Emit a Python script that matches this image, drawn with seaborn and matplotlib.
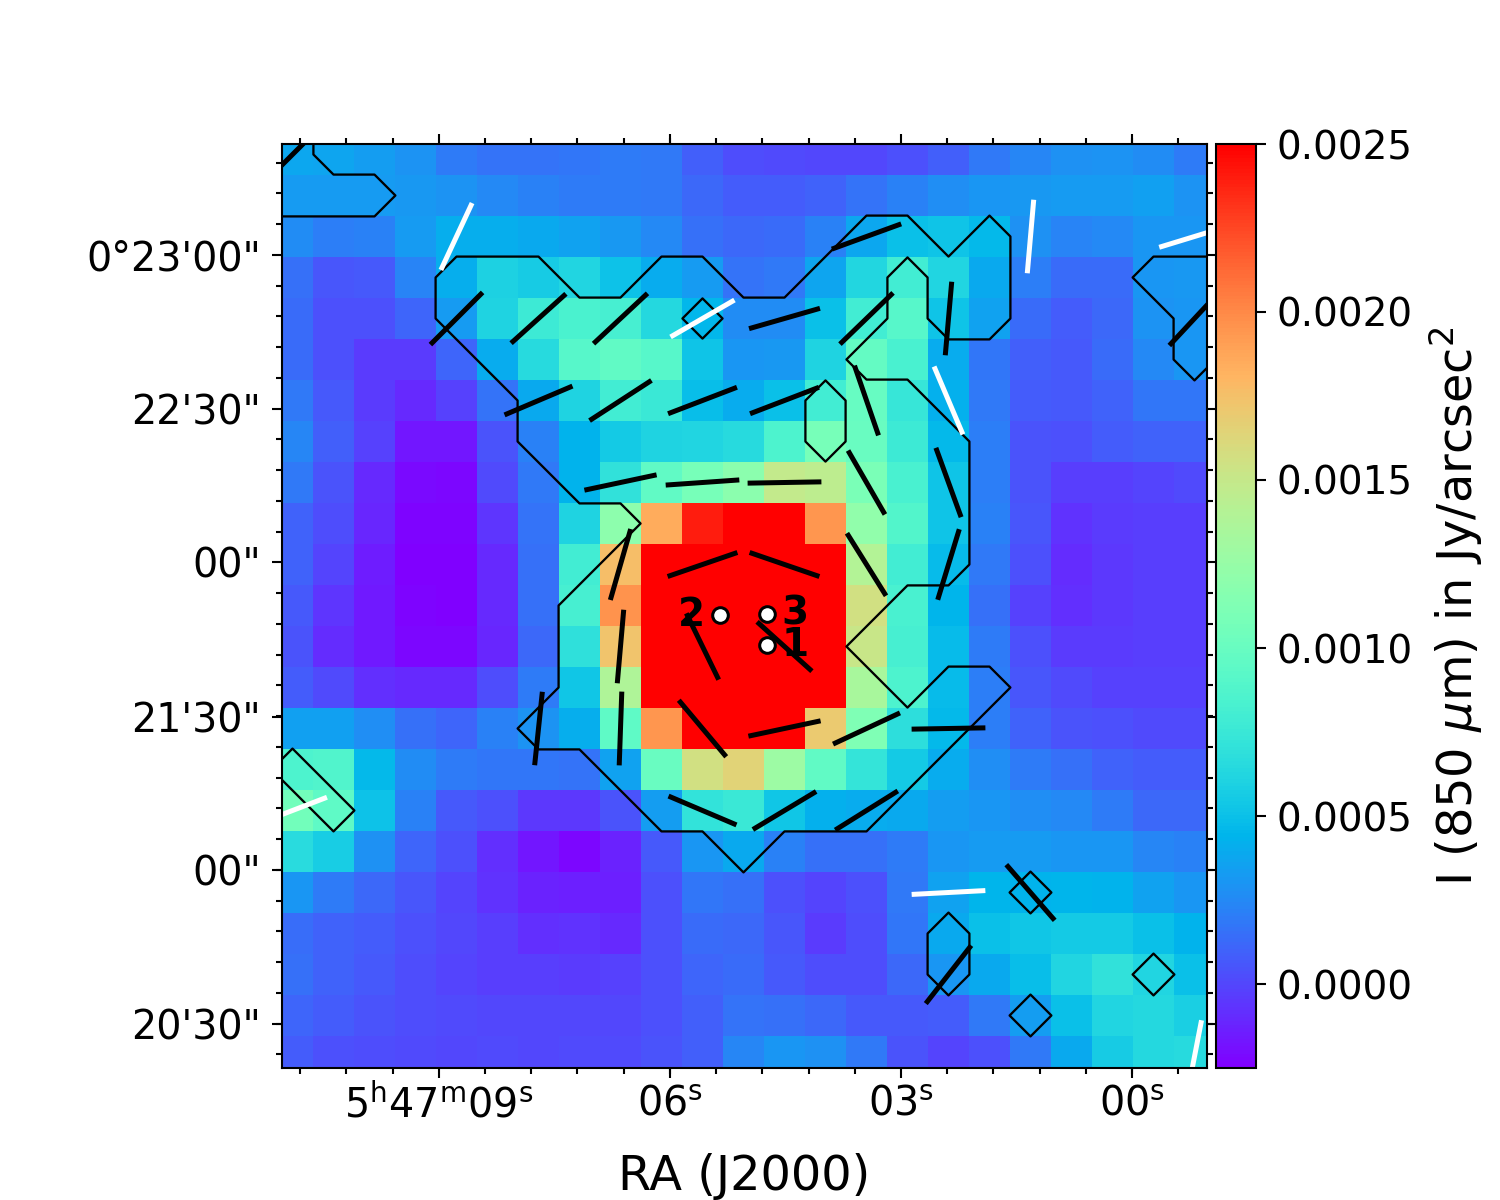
import numpy as np
import seaborn as sns
import matplotlib
matplotlib.use("Agg")
import matplotlib.pyplot as plt

# stokes I in units of 1e-4 Jy/arcsec2, top row first
intensity = [
    [3.8, 3.7, 3.4, 2.9, 2.0, 1.6, 1.6, 1.7, 2.0, 1.8, 0.9, 0.2, 0.1, 0.0, 0.0, 0.4, 0.9, 1.9, 2.4, 2.8, 2.9, 2.6, 2.0],
    [3.3, 3.3, 3.2, 3.1, 2.9, 2.5, 2.2, 2.0, 2.0, 1.8, 1.2, 0.8, 0.8, 1.0, 1.6, 2.2, 2.7, 3.0, 3.1, 3.2, 3.3, 3.5, 2.9],
    [2.6, 2.1, 2.2, 3.2, 4.1, 4.1, 3.9, 3.6, 3.1, 2.5, 1.5, 1.2, 1.3, 2.2, 3.8, 5.0, 5.2, 4.6, 2.8, 2.3, 2.5, 3.0, 3.0],
    [1.5, 0.6, 0.7, 2.3, 4.1, 5.9, 5.6, 6.1, 5.1, 4.0, 3.3, 1.6, 1.9, 3.7, 6.3, 8.0, 6.2, 3.9, 2.1, 1.3, 1.3, 3.0, 3.1],
    [1.3, 0.3, 0.4, 1.1, 3.2, 6.0, 7.6, 8.4, 8.2, 6.4, 4.5, 2.6, 2.6, 5.0, 8.0, 9.0, 5.2, 3.6, 1.3, 0.8, 1.2, 2.9, 3.0],
    [1.3, 0.3, -0.4, -0.4, 1.1, 4.0, 6.5, 9.0, 9.6, 9.0, 5.2, 3.0, 3.1, 6.0, 9.8, 8.3, 4.0, 1.7, 0.9, 0.7, 1.3, 2.5, 3.0],
    [1.8, 0.7, -0.4, -1.0, -0.2, 1.6, 3.9, 6.0, 8.0, 7.5, 4.9, 4.0, 5.0, 8.0, 9.9, 7.3, 4.2, 1.8, 0.8, 0.7, 1.0, 1.7, 1.7],
    [2.4, 0.9, -0.2, -1.7, -1.7, 0.5, 2.2, 4.3, 5.5, 6.0, 6.2, 6.5, 8.5, 10.8, 10.0, 7.6, 4.6, 2.1, 0.5, 0.3, 0.8, 1.0, 1.0],
    [1.9, 0.5, -1.0, -2.1, -2.2, 0.1, 1.8, 4.3, 7.0, 9.6, 10.8, 11.8, 14.8, 14.5, 11.0, 8.3, 5.2, 2.1, 0.5, -0.3, -0.3, -0.1, 0.1],
    [1.0, 0.2, -1.2, -2.3, -2.3, -0.6, 1.6, 6.0, 12.0, 18.5, 24.0, 25.0, 25.0, 19.5, 12.2, 8.8, 5.2, 2.2, 0.6, -0.7, -0.4, -0.3, -0.3],
    [1.0, -0.1, -1.5, -2.4, -2.4, -1.0, 1.5, 8.0, 17.6, 25.0, 25.0, 25.0, 25.0, 25.0, 14.0, 8.0, 4.7, 1.9, 0.3, -0.9, -0.5, -0.3, -0.3],
    [0.7, -0.6, -1.6, -2.3, -2.5, -1.1, 1.5, 8.2, 19.6, 25.0, 25.0, 25.0, 25.0, 25.0, 15.6, 8.3, 4.4, 1.5, -0.2, -0.8, -0.5, -0.3, -0.3],
    [0.5, -0.9, -1.6, -2.2, -2.2, -1.2, 1.2, 6.9, 17.3, 25.0, 25.0, 25.0, 25.0, 25.0, 15.2, 8.2, 4.8, 2.0, 0.3, -0.4, -0.4, -0.3, -0.3],
    [0.8, 0.1, -0.8, -1.1, -1.1, 0.2, 2.0, 5.3, 13.8, 25.0, 25.0, 25.0, 25.0, 25.0, 13.5, 8.5, 4.8, 2.1, 0.6, 0.1, -0.2, -0.2, -0.2],
    [3.5, 3.5, 2.7, 1.5, 1.1, 2.2, 2.9, 4.1, 9.5, 19.5, 25.0, 25.0, 25.0, 17.0, 11.2, 6.8, 4.6, 2.1, 1.0, 0.5, 0.3, 0.1, 0.1],
    [8.5, 8.7, 4.6, 2.6, 2.0, 1.7, 1.7, 1.6, 3.6, 10.0, 15.6, 16.5, 12.8, 9.6, 7.2, 5.5, 4.0, 2.7, 2.0, 1.5, 1.0, 0.8, 0.8],
    [10.5, 9.5, 5.1, 2.2, 0.7, 0.3, -0.5, -0.5, 0.5, 3.4, 7.1, 7.5, 5.3, 4.2, 4.0, 3.9, 3.4, 3.0, 2.7, 2.5, 2.0, 1.2, 1.2],
    [6.6, 5.7, 2.8, 1.1, 0.3, -0.8, -1.7, -2.2, -1.3, 0.7, 3.0, 3.9, 2.2, 1.5, 1.5, 2.0, 3.0, 3.2, 3.2, 3.0, 3.0, 2.4, 2.2],
    [3.0, 2.0, 1.2, 0.6, -0.1, -0.7, -1.3, -1.4, -1.4, 0.4, 1.7, 1.5, 0.4, -0.1, 0.4, 1.9, 3.6, 4.4, 4.3, 4.4, 4.3, 3.6, 3.0],
    [1.4, 1.0, 0.8, 0.4, 0.0, -0.3, -0.8, -0.7, -1.0, 0.4, 1.3, 1.2, 0.6, -0.4, 0.2, 1.7, 3.9, 5.0, 5.3, 5.5, 5.5, 5.0, 4.3],
    [1.5, 1.0, 0.7, 0.2, -0.1, -0.3, -0.3, -0.4, -0.2, 0.4, 1.1, 1.3, 0.7, 0.2, 0.2, 1.2, 3.0, 3.9, 4.9, 6.1, 7.0, 6.2, 5.0],
    [1.1, 0.8, 0.5, 0.2, 0.1, 0.0, 0.0, 0.0, 0.0, 0.4, 0.9, 1.6, 1.5, 1.2, 0.7, 0.7, 0.8, 1.9, 3.4, 5.0, 6.2, 6.4, 5.8],
    [0.8, 0.3, 0.2, 0.1, 0.0, 0.1, 0.0, 0.1, 0.1, 0.5, 0.9, 2.4, 3.0, 2.8, 1.8, 0.5, -0.1, 0.4, 1.8, 3.9, 5.6, 6.4, 6.5],
]

# contour mask, one extra cell on each side because the map is cropped
mask_rows = [
    "1100000000000000000000000",
    "1100000000000000000000000",
    "1111000000000000000000000",
    "0000000000000001101000000",
    "0000011100110011011000111",
    "0000011111101111011000011",
    "0000001111111110000000010",
    "0000000111111101100000000",
    "0000000111111101110000000",
    "0000000011111111110000000",
    "0000000000111111110000000",
    "0000000001111111110000000",
    "0000000011111111000000000",
    "0000000011111110000000000",
    "0000000011111111011000000",
    "0000000111111111110000000",
    "0100000001111111100000000",
    "0010000000111111000000000",
    "0000000000001000000000000",
    "0000000000000000000100000",
    "0000000000000000010000000",
    "0000000000000000010000100",
    "0000000000000000000100000",
    "0000000000000000000000000",
    "0000000000000000000000000",
]

# polarization vectors: cell column, cell row, angle in degrees from +x
black_col = [0, 14, 4, 6, 8, 12, 14, 16, 22, 6, 8, 10, 12, 14, 8, 10, 12, 14, 16,
             8, 10, 12, 14, 16, 8, 10, 12, 6, 8, 10, 12, 14, 16, 10, 12, 14, 18, 16]
black_row = [0, 2, 4, 4, 4, 4, 4, 4, 4, 6, 6, 6, 6, 6, 8, 8, 8, 8, 8,
             10, 10, 10, 10, 10, 12, 12, 12, 14, 14, 14, 14, 14, 14, 16, 16, 16, 18, 20]
black_ang = [45, 20, 45, 42, 43, 16, 44, 85, 47, 23, 33, 21, 21, 109, 12, 4, 1, 120, 110,
             74, 19, -19, -58, 73, 85, -64, -42, 84, 88, -50, 12, 25, 1, -23, 31, 32, -49, 52]
white_col = [4, 18, 22, 10, 16, 0, 16, 22]
white_row = [2, 2, 2, 4, 6, 16, 18, 22]
white_ang = [65, 85, 17, 30, 113, 21, 3, 79]
vec_len = 1.8

source_names = ["1", "2", "3"]
source_col = [12.07, 10.93, 12.07]
source_row = [12.46, 11.73, 11.71]
source_text_col = [12.76, 10.24, 12.76]
source_text_row = [12.46, 11.72, 11.70]

ra_labels = ["5$^{\\mathrm{h}}$47$^{\\mathrm{m}}$09$^{\\mathrm{s}}$", "06$^{\\mathrm{s}}$", "03$^{\\mathrm{s}}$", "00$^{\\mathrm{s}}$"]
ra_ticks = np.array([4.07, 9.71, 15.34, 20.98])
dec_labels = ["0\u00b023'00\"", "22'30\"", "00\"", "21'30\"", "00\"", "20'30\""]
dec_ticks = np.array([2.95, 6.70, 10.45, 14.21, 17.96, 21.71])
cbar_ticks = [0.0, 0.0005, 0.001, 0.0015, 0.002, 0.0025]

data = np.array(intensity) * 1e-4
mask = np.array([[int(c) for c in row] for row in mask_rows])

fig = plt.figure(figsize=(10, 8), dpi=150)
ax = fig.add_axes([282 / 1500, 1 - 1068 / 1200, 925 / 1500, 924 / 1200])
cax = fig.add_axes([1216 / 1500, 1 - 1068 / 1200, 40 / 1500, 924 / 1200])

sns.heatmap(data, cmap="rainbow", vmin=-0.00025, vmax=0.0025, ax=ax, cbar_ax=cax,
            xticklabels=False, yticklabels=False,
            cbar_kws={"ticks": cbar_ticks, "format": "%.4f"})

# contour through the cell centres
xc = np.arange(-1, 24) + 0.5
yc = np.arange(-1, 24) + 0.5
ax.contour(xc, yc, mask, levels=[0.49], colors="k", linewidths=1.1)


def draw_vectors(cols, rows, angs, color):
    for c, r, a in zip(cols, rows, angs):
        dx = np.cos(np.radians(a)) * vec_len / 2
        dy = np.sin(np.radians(a)) * vec_len / 2
        ax.plot([c + 0.5 - dx, c + 0.5 + dx], [r + 0.5 + dy, r + 0.5 - dy], color=color,
                lw=2.4, solid_capstyle="butt")


draw_vectors(black_col, black_row, black_ang, "k")
draw_vectors(white_col, white_row, white_ang, "w")

ax.plot(source_col, source_row, "o", ms=7.5, mfc="w", mec="k", mew=1.45, ls="none")
for name, c, r in zip(source_names, source_text_col, source_text_row):
    ax.text(c, r, name, fontsize=18.7, fontweight="bold", ha="center", va="center", color="k")

ax.set_xlim(10 / 41, 935 / 41)
ax.set_ylim(934 / 41, 10 / 41)

ax.set_xticks(ra_ticks)
ax.set_xticklabels(ra_labels)
ax.set_yticks(dec_ticks)
ax.set_yticklabels(dec_labels)
ax.set_xticks(np.arange(ra_ticks[0] - 3 * 1.127, 22.8, 1.127), minor=True)
ax.set_yticks(np.arange(dec_ticks[0] - 3 * 0.75, 22.8, 0.75), minor=True)
ax.tick_params(which="major", length=5, width=1, labelsize=19, pad=5, top=True, right=True, direction="out")
ax.tick_params(which="minor", length=3, width=1, top=True, right=True, direction="out")
ax.tick_params(axis="x", which="major", pad=3)
ax.set_xlabel("RA (J2000)", fontsize=23, labelpad=13)
for s in ax.spines.values():
    s.set_visible(True)
    s.set_linewidth(1)

cbar = ax.collections[0].colorbar
cbar.outline.set_visible(True)
cbar.outline.set_linewidth(1)
cbar.ax.tick_params(length=5, width=1, labelsize=18.7, pad=5)
cbar.set_label("I (850 $\\mu$m) in Jy/arcsec$^2$", fontsize=23, labelpad=7)

fig.savefig("out.png", dpi=150)
